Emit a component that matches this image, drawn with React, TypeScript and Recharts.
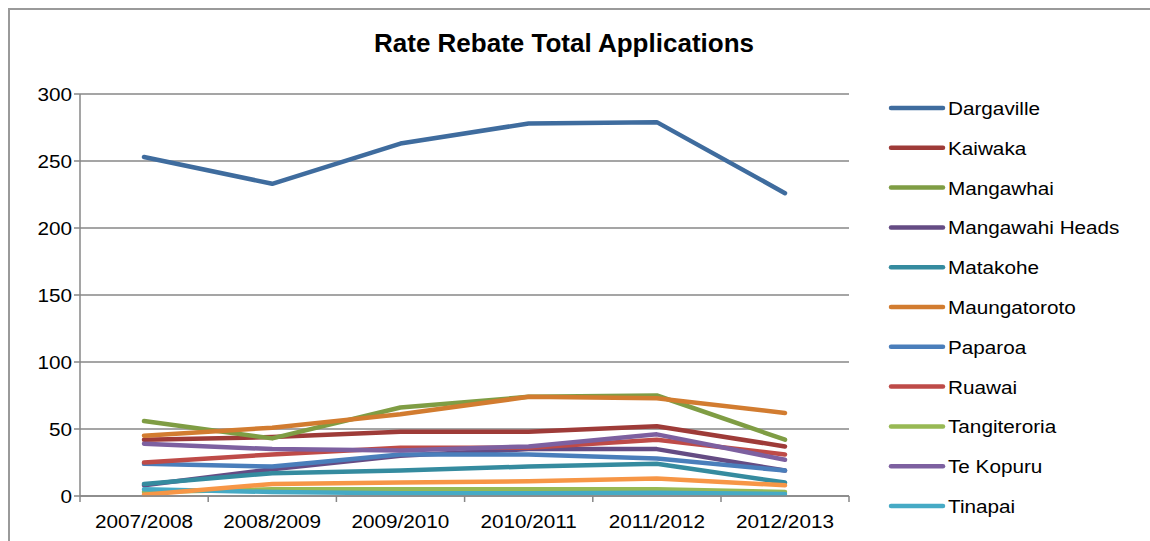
import { LineChart, Line, XAxis, YAxis, CartesianGrid } from 'recharts';

const years = ['2007/2008', '2008/2009', '2009/2010', '2010/2011', '2011/2012', '2012/2013'];

const dargaville = [253, 233, 263, 278, 279, 226];
const kaiwaka = [42, 44, 48, 48, 52, 37];
const mangawhai = [56, 43, 66, 74, 75, 42];
const mangawahiHeads = [8, 20, 30, 35, 35, 19];
const matakohe = [9, 17, 19, 22, 24, 10];
const maungatoroto = [45, 51, 61, 74, 73, 62];
const paparoa = [24, 22, 31, 31, 28, 19];
const ruawai = [25, 31, 36, 36, 42, 31];
const tangiteroria = [3, 5, 5, 5, 5, 3];
const teKopuru = [39, 35, 34, 37, 46, 27];
const tinapai = [5, 3, 2, 2, 2.5, 1.5];
const other = [1, 9, 10, 11, 13, 8];

const yTicks = [0, 50, 100, 150, 200, 250, 300];

const series = [
  { name: 'Dargaville', values: dargaville, color: '#3F6C9E', legend: true },
  { name: 'Kaiwaka', values: kaiwaka, color: '#9E3B38', legend: true },
  { name: 'Mangawhai', values: mangawhai, color: '#7F9D44', legend: true },
  { name: 'Mangawahi Heads', values: mangawahiHeads, color: '#654C84', legend: true },
  { name: 'Matakohe', values: matakohe, color: '#358B9F', legend: true },
  { name: 'Maungatoroto', values: maungatoroto, color: '#D27C30', legend: true },
  { name: 'Paparoa', values: paparoa, color: '#4A7EBB', legend: true },
  { name: 'Ruawai', values: ruawai, color: '#BE4B48', legend: true },
  { name: 'Tangiteroria', values: tangiteroria, color: '#98B954', legend: true },
  { name: 'Te Kopuru', values: teKopuru, color: '#7D60A0', legend: true },
  { name: 'Tinapai', values: tinapai, color: '#46AAC5', legend: true },
  { name: 'Other', values: other, color: '#F79646', legend: false },
];

const data = years.map((year, i) => {
  const row: Record<string, string | number> = { year };
  series.forEach((s) => {
    row[s.name] = s.values[i];
  });
  return row;
});

const FONT = '"Liberation Sans", Arial, sans-serif';
const GRID = '#878787';

function XTick(props: any) {
  const { x, y, payload, index } = props;
  const half = 64;
  return (
    <g>
      <line x1={x - half} y1={y - 8} x2={x - half} y2={y - 2} stroke={GRID} strokeWidth={1.5} />
      {index === years.length - 1 && (
        <line x1={x + half} y1={y - 8} x2={x + half} y2={y - 2} stroke={GRID} strokeWidth={1.5} />
      )}
      <text
        transform={`translate(${x},${y + 24}) scale(1.12,1)`}
        textAnchor="middle"
        fontFamily={FONT}
        fontSize={18.5}
        fill="#000"
      >
        {payload.value}
      </text>
    </g>
  );
}

function YTick(props: any) {
  const { x, y, payload } = props;
  return (
    <text
      transform={`translate(${x},${y + 7}) scale(1.12,1)`}
      textAnchor="end"
      fontFamily={FONT}
      fontSize={18.5}
      fill="#000"
    >
      {payload.value}
    </text>
  );
}

export default function App() {
  const legendItems = series.filter((s) => s.legend);
  return (
    <div style={{ position: 'absolute', left: 0, top: 0, width: 1150, height: 541, background: '#fff' }}>
      <div
        style={{
          position: 'absolute',
          left: 8,
          top: 8,
          width: 1200,
          height: 600,
          borderTop: `2px solid #9a9a9a`,
          borderLeft: `2px solid #9a9a9a`,
        }}
      />
      <div style={{ position: 'absolute', left: 0, top: 0 }}>
        <LineChart width={1150} height={541} data={data} margin={{ top: 94, right: 301, bottom: 15, left: 10 }}>
          <CartesianGrid vertical={false} stroke={GRID} strokeWidth={1.5} />
          <XAxis
            dataKey="year"
            padding={{ left: 64, right: 64 }}
            height={30}
            axisLine={{ stroke: GRID, strokeWidth: 1.5 }}
            tickLine={false}
            tick={<XTick />}
            interval={0}
          />
          <YAxis
            domain={[0, 300]}
            ticks={yTicks}
            width={70}
            axisLine={{ stroke: GRID, strokeWidth: 1.5 }}
            tickLine={{ stroke: GRID, strokeWidth: 1.5 }}
            tickSize={6}
            tick={<YTick />}
            interval={0}
          />
          {series.map((s) => (
            <Line
              key={s.name}
              dataKey={s.name}
              stroke={s.color}
              strokeWidth={4.5}
              strokeLinecap="round"
              strokeLinejoin="round"
              dot={false}
              activeDot={false}
              isAnimationActive={false}
              legendType={s.legend ? 'line' : 'none'}
            />
          ))}
        </LineChart>
      </div>
      <svg
        width={1150}
        height={541}
        style={{ position: 'absolute', left: 0, top: 0, pointerEvents: 'none' }}
      >
        <text
          x={374}
          y={52}
          fontFamily={FONT}
          fontWeight="bold"
          fontSize={25}
          textLength={380}
          lengthAdjust="spacingAndGlyphs"
          fill="#000"
        >
          Rate Rebate Total Applications
        </text>
        {legendItems.map((s, i) => {
          const cy = 108 + i * 39.8;
          return (
            <g key={s.name}>
              <line x1={891} y1={cy} x2={943} y2={cy} stroke={s.color} strokeWidth={4.5} strokeLinecap="round" />
              <text
                transform={`translate(948,${cy + 7}) scale(1.12,1)`}
                fontFamily={FONT}
                fontSize={18.5}
                fill="#000"
              >
                {s.name}
              </text>
            </g>
          );
        })}
      </svg>
    </div>
  );
}
